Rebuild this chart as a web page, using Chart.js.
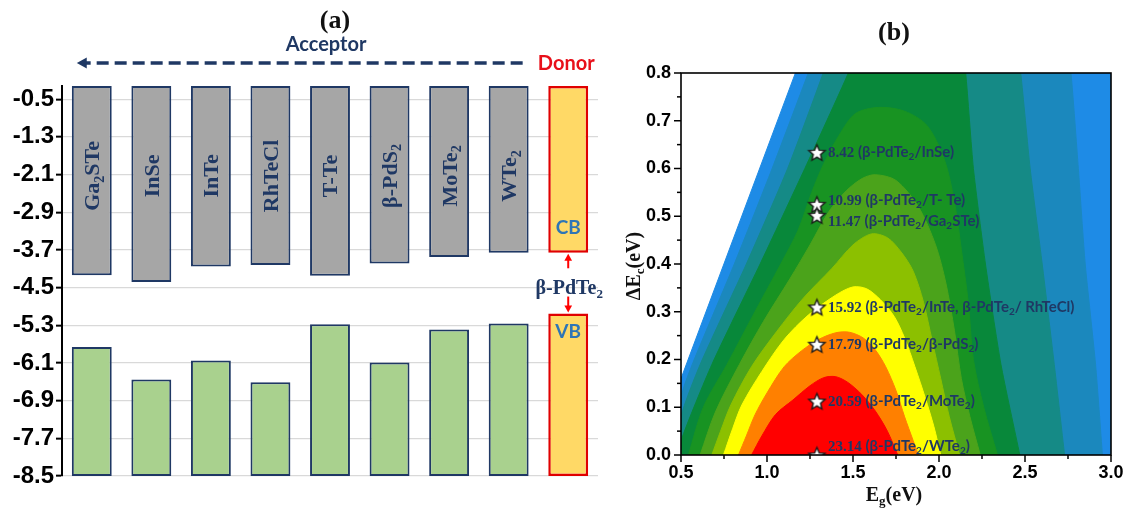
<!DOCTYPE html>
<html>
<head>
<meta charset="utf-8">
<script src="https://cdn.jsdelivr.net/npm/chart.js@4.4.1/dist/chart.umd.min.js"></script>
<style>
  html, body { margin: 0; padding: 0; background: #ffffff; width: 1135px; height: 513px; overflow: hidden; }
  #panelA { position: absolute; left: 0; top: 0; }
  #panelB { position: absolute; left: 612px; top: 0; }
</style>
</head>
<body>
<canvas id="panelA" width="612" height="513"></canvas>
<canvas id="panelB" width="523" height="513"></canvas>
<script>
// ---------- Band alignment (eV) ----------
const acceptorNames = ['Ga_2STe', 'InSe', 'InTe', 'RhTeCl', 'T-Te', 'β-PdS_2', 'MoTe_2', 'WTe_2'];
const acceptorCB = [-4.24, -4.38, -4.05, -4.02, -4.25, -3.99, -3.85, -3.76];
const acceptorVB = [-5.76, -6.45, -6.05, -6.51, -5.28, -6.09, -5.39, -5.26];
const donorName = 'β-PdTe_2';
const donorCB = -3.76;
const donorVB = -5.05;
const energyTicks = [-8.5, -7.7, -6.9, -6.1, -5.3, -4.5, -3.7, -2.9, -2.1, -1.3, -0.5];
const energyMin = -8.5;
const energyMax = -0.22;

// ---------- PCE contour (Eg, ΔEc) boundaries, outermost first ----------
const bandBlue = [[0.5,0],[0.5,0.16],[1.217,0.85],[3.05,0.85],[3.05,0]];
const bandSteel = [[0.5,0],[0.5,0.12],[0.566,0.19],[0.81,0.4],[1.03,0.6],[1.24,0.8],[1.29,0.85],[2.74,0.85],[2.767,0.8],[2.81,0.6],[2.85,0.4],[2.91,0.19],[2.95,0]];
const bandTeal = [[0.5,0],[0.5,0.08],[0.612,0.19],[0.88,0.4],[1.12,0.6],[1.327,0.8],[1.37,0.85],[2.45,0.85],[2.475,0.8],[2.53,0.6],[2.6,0.4],[2.67,0.19],[2.73,0]];
const bandDarkGreen = [[0.5,0],[0.5,0.03],[0.68,0.19],[0.96,0.4],[1.22,0.6],[1.473,0.8],[1.52,0.85],[2.13,0.85],[2.155,0.8],[2.2,0.6],[2.27,0.4],[2.36,0.19],[2.47,0]];
const bandGreen = [[0.543,0],[0.63,0.1],[0.768,0.19],[0.93,0.3],[1.08,0.4],[1.18,0.47],[1.26,0.55],[1.33,0.61],[1.42,0.67],[1.514,0.715],[1.65,0.728],[1.8,0.72],[1.93,0.69],[2.03,0.62],[2.09,0.53],[2.13,0.43],[2.17,0.32],[2.2,0.2],[2.26,0.1],[2.34,0]];
const bandMidGreen = [[0.611,0],[0.7,0.09],[0.84,0.19],[0.98,0.28],[1.135,0.37],[1.25,0.44],[1.36,0.51],[1.46,0.553],[1.553,0.579],[1.63,0.587],[1.75,0.575],[1.88,0.52],[1.98,0.44],[2.04,0.36],[2.09,0.26],[2.13,0.16],[2.18,0.08],[2.24,0]];
const bandYellowGreen = [[0.679,0],[0.73,0.05],[0.79,0.105],[0.91,0.185],[1.055,0.258],[1.21,0.328],[1.378,0.391],[1.5,0.44],[1.607,0.463],[1.7,0.455],[1.78,0.425],[1.85,0.385],[1.91,0.32],[1.96,0.24],[2.01,0.16],[2.06,0.08],[2.12,0]];
const bandYellow = [[0.747,0],[0.8,0.055],[0.854,0.105],[0.97,0.175],[1.1,0.242],[1.24,0.293],[1.4,0.335],[1.5,0.352],[1.58,0.348],[1.66,0.325],[1.74,0.29],[1.8,0.245],[1.86,0.185],[1.92,0.12],[1.97,0.06],[2.01,0]];
const bandOrange = [[0.834,0],[0.88,0.04],[0.93,0.084],[1.0,0.13],[1.1,0.185],[1.2,0.218],[1.3,0.242],[1.4,0.256],[1.48,0.257],[1.56,0.245],[1.63,0.22],[1.69,0.185],[1.75,0.135],[1.8,0.08],[1.85,0.03],[1.88,0]];
const bandRed = [[0.91,0],[0.97,0.04],[1.05,0.085],[1.15,0.115],[1.25,0.145],[1.33,0.162],[1.4,0.164],[1.47,0.152],[1.55,0.127],[1.63,0.092],[1.7,0.05],[1.76,0]];

// ---------- Heterostructure points ----------
const pairEg = [1.29, 1.29, 1.29, 1.29, 1.29, 1.29, 1.29];
const pairDEc = [0.634, 0.525, 0.502, 0.31, 0.232, 0.113, 0.0];
const pairPCE = ['8.42', '10.99', '11.47', '15.92', '17.79', '20.59', '23.14'];
const pairNames = ['β-PdTe_2/InSe', 'β-PdTe_2/T- Te', 'β-PdTe_2/Ga_2STe', 'β-PdTe_2/InTe, β-PdTe_2/ RhTeCl', 'β-PdTe_2/β-PdS_2', 'β-PdTe_2/MoTe_2', 'β-PdTe_2/WTe_2'];

// ---------- text helpers ----------
const NAVY = '#1f3864';
const SERIF = '"Liberation Serif", "Times New Roman", serif';
const SANS = 'Lato, "Liberation Sans", sans-serif';
const ARIAL = '"Liberation Sans", Arial, sans-serif';

function richParts(str) {
  const parts = [];
  let buf = '';
  for (let i = 0; i < str.length; i++) {
    if (str[i] === '_' && i + 1 < str.length) {
      if (buf) { parts.push({ t: buf, sub: false }); buf = ''; }
      parts.push({ t: str[i + 1], sub: true });
      i++;
    } else {
      buf += str[i];
    }
  }
  if (buf) parts.push({ t: buf, sub: false });
  return parts;
}

// Draws text with "_x" subscripts; y is the visual middle of the capitals.
function drawRich(ctx, str, x, y, family, size, color, align) {
  const parts = richParts(str);
  const mainFont = 'bold ' + size + 'px ' + family;
  const subFont = 'bold ' + Math.round(size * 0.64) + 'px ' + family;
  let w = 0;
  parts.forEach(p => { ctx.font = p.sub ? subFont : mainFont; p.w = ctx.measureText(p.t).width; w += p.w; });
  let cx = align === 'center' ? x - w / 2 : (align === 'right' ? x - w : x);
  const base = y + size * 0.34;
  ctx.fillStyle = color;
  ctx.textAlign = 'left';
  ctx.textBaseline = 'alphabetic';
  parts.forEach(p => {
    ctx.font = p.sub ? subFont : mainFont;
    ctx.fillText(p.t, cx, p.sub ? base + size * 0.2 : base);
    cx += p.w;
  });
  return cx;
}

function arrowHead(ctx, x, y, dir, size, color) {
  // dir: 'up' | 'down' | 'left'
  ctx.fillStyle = color;
  ctx.beginPath();
  if (dir === 'up') { ctx.moveTo(x, y); ctx.lineTo(x - size * 0.55, y + size); ctx.lineTo(x + size * 0.55, y + size); }
  else if (dir === 'down') { ctx.moveTo(x, y); ctx.lineTo(x - size * 0.55, y - size); ctx.lineTo(x + size * 0.55, y - size); }
  else { ctx.moveTo(x, y); ctx.lineTo(x + size, y - size * 0.55); ctx.lineTo(x + size, y + size * 0.55); }
  ctx.closePath();
  ctx.fill();
}

// ---------- panel (a): band edges ----------
const nCat = acceptorNames.length + 1;
const catLabels = acceptorNames.concat([donorName]);
const cbBars = acceptorCB.map(v => [v, energyMax]).concat([null]);
const vbBars = acceptorVB.map(v => [energyMin, v]).concat([null]);
const donorCBBar = new Array(nCat - 1).fill(null).concat([[donorCB, energyMax]]);
const donorVBBar = new Array(nCat - 1).fill(null).concat([[energyMin, donorVB]]);

const panelADecor = {
  id: 'panelADecor',
  afterDatasetsDraw(chart) {
    const ctx = chart.ctx;
    const xs = chart.scales.x, ys = chart.scales.y;
    ctx.save();
    // material names inside the conduction-band bars
    acceptorNames.forEach((name, i) => {
      ctx.save();
      ctx.translate(xs.getPixelForValue(i), ys.getPixelForValue(-2.13));
      ctx.rotate(-Math.PI / 2);
      drawRich(ctx, name, 0, 0, SERIF, 22, NAVY, 'center');
      ctx.restore();
    });
    const xd = xs.getPixelForValue(nCat - 1);
    drawRich(ctx, 'CB', xd, ys.getPixelForValue(-3.23), SANS, 19, '#2e75b6', 'center');
    drawRich(ctx, 'VB', xd, ys.getPixelForValue(-5.44), SANS, 19, '#2e75b6', 'center');
    drawRich(ctx, donorName, xd + 1, ys.getPixelForValue(-4.49), SERIF, 20, NAVY, 'center');
    // red arrows from the donor label to its band edges
    ctx.strokeStyle = '#ff0000';
    ctx.lineWidth = 2;
    const yUp0 = ys.getPixelForValue(-4.09), yUp1 = ys.getPixelForValue(donorCB);
    ctx.beginPath(); ctx.moveTo(xd, yUp0); ctx.lineTo(xd, yUp1 + 6); ctx.stroke();
    arrowHead(ctx, xd, yUp1 + 1, 'up', 7, '#ff0000');
    const yDn0 = ys.getPixelForValue(-4.69), yDn1 = ys.getPixelForValue(donorVB);
    ctx.beginPath(); ctx.moveTo(xd, yDn0); ctx.lineTo(xd, yDn1 - 6); ctx.stroke();
    arrowHead(ctx, xd, yDn1 - 1, 'down', 7, '#ff0000');
    ctx.restore();
  },
  afterDraw(chart) {
    const ctx = chart.ctx;
    const xs = chart.scales.x;
    ctx.save();
    drawRich(ctx, '(a)', xs.getPixelForValue(4) + 5, 19, SERIF, 26, '#111111', 'center');
    drawRich(ctx, 'Acceptor', xs.getPixelForValue(4) - 4, 44, SANS, 20, NAVY, 'center');
    const tipX = xs.getPixelForValue(0) - 15;
    const endX = xs.getPixelForValue(7) + 14;
    const ly = 63;
    ctx.strokeStyle = NAVY;
    ctx.lineWidth = 3.5;
    ctx.setLineDash([12, 6]);
    ctx.beginPath(); ctx.moveTo(endX, ly); ctx.lineTo(tipX + 9, ly); ctx.stroke();
    ctx.setLineDash([]);
    arrowHead(ctx, tipX, ly, 'left', 10, NAVY);
    drawRich(ctx, 'Donor', xs.getPixelForValue(nCat - 1) - 2, ly, SANS, 20, '#e8101a', 'center');
    ctx.restore();
  }
};

const barCommon = { borderSkipped: false, grouped: false, barPercentage: 0.67, categoryPercentage: 1.0 };

new Chart(document.getElementById('panelA'), {
  type: 'bar',
  data: {
    labels: catLabels,
    datasets: [
      Object.assign({ label: 'CB', data: cbBars, backgroundColor: '#a6a6a6', borderColor: NAVY, borderWidth: 2 }, barCommon),
      Object.assign({ label: 'VB', data: vbBars, backgroundColor: '#a9d18e', borderColor: NAVY, borderWidth: 2 }, barCommon),
      Object.assign({ label: 'Donor CB', data: donorCBBar, backgroundColor: '#ffd966', borderColor: '#e00000', borderWidth: 2.5 }, barCommon),
      Object.assign({ label: 'Donor VB', data: donorVBBar, backgroundColor: '#ffd966', borderColor: '#e00000', borderWidth: 2.5 }, barCommon)
    ]
  },
  options: {
    responsive: false,
    animation: false,
    devicePixelRatio: 1,
    layout: { padding: { top: 86, right: 14, bottom: 37, left: 0 } },
    plugins: { legend: { display: false }, tooltip: { enabled: false } },
    scales: {
      x: { display: false },
      y: {
        min: energyMin,
        max: energyMax,
        afterBuildTicks: s => { s.ticks = energyTicks.map(v => ({ value: v })); },
        afterFit: s => { s.width = 62; },
        ticks: {
          color: '#000',
          padding: 2,
          font: { family: ARIAL, size: 24, weight: 'bold' },
          callback: v => Number(v).toFixed(1)
        },
        grid: { color: '#d9d9d9', lineWidth: 1.3, tickColor: '#000', tickLength: 6, tickWidth: 2 },
        border: { display: true, color: '#000', width: 2 }
      }
    }
  },
  plugins: [panelADecor]
});

// ---------- panel (b): PCE contour ----------
function makeStar(r) {
  const c = document.createElement('canvas');
  const s = Math.ceil(r * 2 + 4);
  c.width = s; c.height = s;
  const g = c.getContext('2d');
  g.translate(s / 2, s / 2 + 1);
  g.beginPath();
  for (let k = 0; k < 10; k++) {
    const rad = k % 2 ? r * 0.45 : r;
    const a = -Math.PI / 2 + k * Math.PI / 5;
    g.lineTo(rad * Math.cos(a), rad * Math.sin(a));
  }
  g.closePath();
  g.fillStyle = '#ffffff';
  g.fill();
  g.lineWidth = 1.4;
  g.strokeStyle = '#1a1a1a';
  g.stroke();
  return c;
}
const starImg = makeStar(8.5);

const contourLevels = [
  { pts: bandBlue, color: '#1e8be6', tension: 0 },
  { pts: bandSteel, color: '#1b88bd', tension: 0.2 },
  { pts: bandTeal, color: '#158a86', tension: 0.2 },
  { pts: bandDarkGreen, color: '#08883a', tension: 0.2 },
  { pts: bandGreen, color: '#189322', tension: 0.3 },
  { pts: bandMidGreen, color: '#4ba31b', tension: 0.3 },
  { pts: bandYellowGreen, color: '#8cc000', tension: 0.3 },
  { pts: bandYellow, color: '#ffff00', tension: 0.3 },
  { pts: bandOrange, color: '#ff8000', tension: 0.3 },
  { pts: bandRed, color: '#ff0000', tension: 0.3 }
];

const contourSets = contourLevels.map((lv, i) => ({
  type: 'line',
  data: lv.pts.map(p => ({ x: p[0], y: p[1] })),
  backgroundColor: lv.color,
  borderColor: lv.color,
  borderWidth: 1,
  pointRadius: 0,
  fill: 'shape',
  tension: lv.tension,
  order: contourLevels.length - i
}));

const labelNudge = [0, -4, 6, 0, 0, 0, -9];

const panelBDecor = {
  id: 'panelBDecor',
  afterDatasetsDraw(chart) {
    const ctx = chart.ctx;
    const xs = chart.scales.x, ys = chart.scales.y;
    const a = chart.chartArea;
    ctx.save();
    // labels beside the stars
    pairPCE.forEach((pce, i) => {
      const x = xs.getPixelForValue(pairEg[i]) + 11;
      const y = ys.getPixelForValue(pairDEc[i]) + labelNudge[i];
      const xEnd = drawRich(ctx, pce + ' ', x, y, SERIF, 15, NAVY, 'left');
      drawRich(ctx, '(' + pairNames[i] + ')', xEnd, y, SANS, 15, NAVY, 'left');
    });
    // frame
    ctx.strokeStyle = '#000';
    ctx.lineWidth = 1.6;
    ctx.strokeRect(a.left, a.top, a.right - a.left, a.bottom - a.top);
    // outward tick marks (major + minor)
    ctx.lineWidth = 1.5;
    ys.ticks.forEach((t, k) => {
      const yp = ys.getPixelForValue(t.value);
      ctx.beginPath(); ctx.moveTo(a.left, yp); ctx.lineTo(a.left - 7, yp); ctx.stroke();
      if (k < ys.ticks.length - 1) {
        const ym = ys.getPixelForValue((t.value + ys.ticks[k + 1].value) / 2);
        ctx.beginPath(); ctx.moveTo(a.left, ym); ctx.lineTo(a.left - 4, ym); ctx.stroke();
      }
    });
    xs.ticks.forEach((t, k) => {
      const xp = xs.getPixelForValue(t.value);
      ctx.beginPath(); ctx.moveTo(xp, a.bottom); ctx.lineTo(xp, a.bottom + 7); ctx.stroke();
      if (k < xs.ticks.length - 1) {
        const xm = xs.getPixelForValue((t.value + xs.ticks[k + 1].value) / 2);
        ctx.beginPath(); ctx.moveTo(xm, a.bottom); ctx.lineTo(xm, a.bottom + 4); ctx.stroke();
      }
    });
    ctx.restore();
  },
  afterDraw(chart) {
    const ctx = chart.ctx;
    const a = chart.chartArea;
    const cx = (a.left + a.right) / 2;
    ctx.save();
    drawRich(ctx, '(b)', cx - 2, 31, SERIF, 26, '#111111', 'center');
    drawRich(ctx, 'E_g(eV)', cx - 2, 494, SERIF, 20, '#111111', 'center');
    ctx.translate(21, (a.top + a.bottom) / 2 + 2);
    ctx.rotate(-Math.PI / 2);
    drawRich(ctx, 'ΔE_c(eV)', 0, 0, SERIF, 20, '#111111', 'center');
    ctx.restore();
  }
};

new Chart(document.getElementById('panelB'), {
  type: 'scatter',
  data: {
    datasets: contourSets.concat([{
      type: 'scatter',
      data: pairEg.map((x, i) => ({ x: x, y: pairDEc[i] })),
      pointStyle: starImg,
      pointRadius: 9,
      clip: 0,
      order: 0
    }])
  },
  options: {
    responsive: false,
    animation: false,
    devicePixelRatio: 1,
    layout: { padding: { top: 73, right: 24, bottom: 0, left: 0 } },
    plugins: { legend: { display: false }, tooltip: { enabled: false } },
    scales: {
      x: {
        type: 'linear', min: 0.5, max: 3.0,
        afterFit: s => { s.height = 58; },
        ticks: { stepSize: 0.5, padding: 7, color: '#000', maxRotation: 0, autoSkip: false,
          font: { family: ARIAL, size: 18, weight: 'bold' }, callback: v => Number(v).toFixed(1) },
        grid: { display: false, drawTicks: false },
        border: { display: false }
      },
      y: {
        type: 'linear', min: 0, max: 0.8,
        afterFit: s => { s.width = 69; },
        ticks: { stepSize: 0.1, padding: 10, color: '#000',
          font: { family: ARIAL, size: 18, weight: 'bold' }, callback: v => Number(v).toFixed(1) },
        grid: { display: false, drawTicks: false },
        border: { display: false }
      }
    }
  },
  plugins: [panelBDecor]
});
</script>
</body>
</html>
